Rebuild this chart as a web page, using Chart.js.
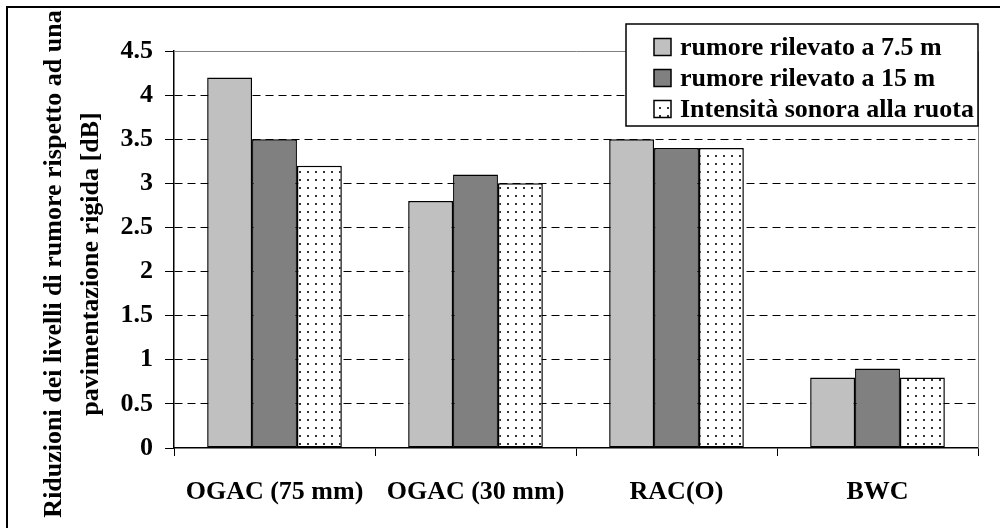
<!DOCTYPE html>
<html>
<head>
<meta charset="utf-8">
<script src="https://cdn.jsdelivr.net/npm/chart.js@4.4.0/dist/chart.umd.min.js"></script>
<style>
  body { margin: 0; background: #fff; }
  #c { display: block; }
</style>
</head>
<body>
<canvas id="c" width="1000" height="528"></canvas>
<script>
// data
const categories = ["OGAC (75 mm)", "OGAC (30 mm)", "RAC(O)", "BWC"];
const seriesNames = ["rumore rilevato a 7.5 m", "rumore rilevato a 15 m", "Intensità sonora alla ruota"];
const noise75 = [4.2, 2.8, 3.5, 0.8];
const noise15 = [3.5, 3.1, 3.4, 0.9];
const wheelIntensity = [3.2, 3.0, 3.4, 0.8];
const yTicks = [0, 0.5, 1, 1.5, 2, 2.5, 3, 3.5, 4, 4.5];
const yTitle = ["Riduzioni dei livelli di rumore rispetto ad una", "pavimentazione rigida [dB]"];

const FONT = "Liberation Serif";
const canvas = document.getElementById("c");
const ctx = canvas.getContext("2d");

// dotted fill for the third series
function dotPattern() {
  const t = document.createElement("canvas");
  t.width = 8;
  t.height = 8;
  const p = t.getContext("2d");
  p.fillStyle = "#fff";
  p.fillRect(0, 0, 8, 8);
  p.fillStyle = "#333";
  p.fillRect(3, 3, 2, 2);
  return ctx.createPattern(t, "repeat");
}

const fills = ["#c0c0c0", "#808080", dotPattern()];

// frame, plot border, axis title and legend
const decor = {
  id: "decor",
  beforeDraw(chart) {
    const c = chart.ctx;
    c.save();
    c.fillStyle = "#fff";
    c.fillRect(0, 0, chart.width, chart.height);
    c.restore();
  },
  beforeDatasetsDraw(chart) {
    const c = chart.ctx;
    const a = chart.chartArea;
    c.save();
    c.strokeStyle = "#808080";
    c.lineWidth = 1;
    c.beginPath();
    c.moveTo(a.left, a.top + 0.5);
    c.lineTo(a.right + 0.5, a.top + 0.5);
    c.lineTo(a.right + 0.5, a.bottom);
    c.stroke();
    c.restore();
  },
  afterDraw(chart) {
    const c = chart.ctx;
    c.save();

    // outer frame (right and bottom fall outside the picture)
    c.strokeStyle = "#000";
    c.lineWidth = 2;
    c.beginPath();
    c.moveTo(7, chart.height + 5);
    c.lineTo(7, 7);
    c.lineTo(chart.width + 5, 7);
    c.stroke();

    // y axis title, two rotated lines
    c.fillStyle = "#000";
    c.font = "bold 26px '" + FONT + "'";
    c.textAlign = "center";
    c.textBaseline = "alphabetic";
    const baseX = [61, 98];
    yTitle.forEach((line, i) => {
      c.save();
      c.translate(baseX[i], 264);
      c.rotate(-Math.PI / 2);
      c.fillText(line, 0, 0);
      c.restore();
    });

    // legend box
    const lx = 626, ly = 24, lw = 352, lh = 102;
    c.fillStyle = "#fff";
    c.fillRect(lx, ly, lw, lh);
    c.strokeStyle = "#000";
    c.lineWidth = 1.5;
    c.strokeRect(lx, ly, lw, lh);

    c.textAlign = "left";
    c.textBaseline = "middle";
    chart.data.datasets.forEach((ds, i) => {
      const cy = 47 + i * 31;
      c.fillStyle = ds.backgroundColor;
      c.fillRect(654, cy - 8.5, 17, 17);
      c.strokeStyle = "#000";
      c.lineWidth = 1.5;
      c.strokeRect(654, cy - 8.5, 17, 17);
      c.fillStyle = "#000";
      c.fillText(ds.label, 680, cy + 1);
    });

    c.restore();
  },
};

const tickFont = { family: FONT, size: 26, weight: "bold" };

new Chart(ctx, {
  type: "bar",
  data: {
    labels: categories,
    datasets: [
      { label: seriesNames[0], data: noise75 },
      { label: seriesNames[1], data: noise15 },
      { label: seriesNames[2], data: wheelIntensity },
    ].map((ds, i) => ({
      ...ds,
      backgroundColor: fills[i],
      borderColor: "#000",
      borderWidth: 1.5,
      borderSkipped: false,
      barPercentage: 1,
      categoryPercentage: 0.67,
    })),
  },
  options: {
    responsive: false,
    animation: false,
    devicePixelRatio: 1,
    layout: { padding: { top: 51, right: 22, left: 0, bottom: 0 } },
    plugins: {
      legend: { display: false },
      tooltip: { enabled: false },
    },
    scales: {
      x: {
        afterFit: (s) => { s.height = 80; },
        grid: {
          offset: true,
          drawOnChartArea: false,
          drawTicks: true,
          tickLength: 8,
          tickColor: "#000",
          tickWidth: 1,
        },
        border: { color: "#000", width: 1.5 },
        ticks: { color: "#000", font: tickFont, padding: 21, maxRotation: 0 },
      },
      y: {
        min: 0,
        max: 4.5,
        afterFit: (s) => { s.width = 174; },
        afterBuildTicks: (s) => { s.ticks = yTicks.map((v) => ({ value: v })); },
        grid: {
          color: (c) => (c.tick && (c.tick.value === 0 || c.tick.value === 4.5) ? "rgba(0,0,0,0)" : "#000"),
          lineWidth: 1,
          tickLength: 9,
          tickColor: "#000",
          tickWidth: 1,
        },
        border: { color: "#000", width: 1.5, dash: [8, 5] },
        ticks: {
          color: "#000",
          font: tickFont,
          padding: 12,
          callback: (v) => String(v),
        },
      },
    },
  },
  plugins: [decor],
});
</script>
</body>
</html>
